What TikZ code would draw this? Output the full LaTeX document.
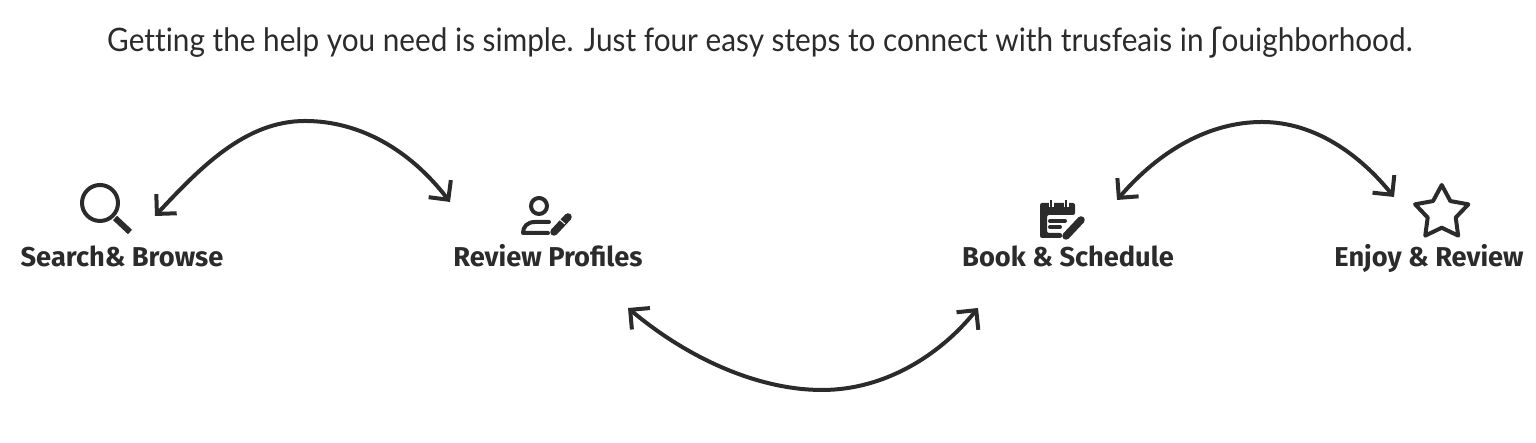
\documentclass[tikz,border=0pt]{standalone}
\usepackage{fontspec}
\setmainfont[FakeStretch=.92,Ligatures=NoCommon]{Lato}
\newfontfamily\labelfont{Fira Sans}
\newfontfamily\ipafont{DejaVu Sans}
\usetikzlibrary{arrows.meta}
\usetikzlibrary{shapes.geometric}
\definecolor{ink}{HTML}{2B2B2B}
\tikzset{
  swing/.style={draw=ink,line width=.04cm,{Straight Barb[length=1.4mm,width=2.8mm]}-{Straight Barb[length=1.4mm,width=2.8mm]}},
  steplabel/.style={text=ink,font=\fontsize{7.75}{10}\labelfont\bfseries,inner sep=0pt,anchor=base},
  icon/.style={draw=ink,line width=.04cm,line cap=round,line join=round},
  pen/.style={draw=ink,line width=.075cm,line cap=round}
}
\begin{document}
\begin{tikzpicture}
    \useasboundingbox (0,0) rectangle (15.36,4.43);
    \node[text=ink,font=\fontsize{9.2}{10}\selectfont,inner sep=0pt,anchor=base] (title) at (7.6,3.91)
      {Getting the help you need is simple. Just four easy steps to connect with trusfeais in {\ipafont ʃ}ouighborhood.};

    \foreach \x/\t/\k in {1.22/Search\& Browse/search,5.48/Review Profiles/review,10.68/Book \& Schedule/book,14.29/Enjoy \& Review/enjoy}
        \node[steplabel] (\k) at (\x,1.76) {\t};

    % magnifier
    \node[icon,circle,minimum size=.36cm,inner sep=0pt] (lens) at (1.00,2.40) {};
    \draw[ink,line width=.06cm] (1.15,2.25) -- (1.30,2.11);

    % person with pen
    \node[icon,circle,minimum size=.16cm,inner sep=0pt] (head) at (5.39,2.37) {};
    \draw[icon] (5.49,2.21) -- (5.35,2.21) .. controls (5.27,2.21) and (5.23,2.16) .. (5.23,2.10) -- (5.48,2.10);
    \draw[pen] (5.54,2.11) -- (5.68,2.26);
    \draw[white,line width=.01cm] (5.59,2.24) -- (5.65,2.19);

    % calendar with pen
    \fill[ink,rounded corners=.6pt] (10.40,2.05) -- (10.40,2.40) -- (10.75,2.40) -- (10.75,2.28) -- (10.47,2.28)
      -- (10.47,2.10) -- (10.62,2.10) -- (10.62,2.05) -- cycle;
    \foreach \x in {10.51,10.66} {
      \draw[white,line width=.05cm] (\x,2.43) -- (\x,2.36);
      \draw[ink,line width=.025cm] (\x,2.43) -- (\x,2.36);
    }
    \draw[icon] (10.50,2.22) -- (10.65,2.22);
    \draw[icon] (10.50,2.16) -- (10.60,2.16);
    \draw[pen] (10.66,2.07) -- (10.81,2.23);

    % star
    \node[icon,star,star points=5,star point ratio=1.9,minimum size=.56cm,inner sep=0pt] (star) at (14.417,2.30) {};

    % ends of the arrows
    \coordinate (a1) at (1.55,2.27);
    \coordinate (a2) at (4.50,2.41);
    \coordinate (b1) at (6.28,1.35);
    \coordinate (b2) at (9.78,1.35);
    \coordinate (c1) at (11.17,2.43);
    \coordinate (c2) at (13.94,2.46);

    \draw[swing] (a1) .. controls (2.00,2.75) and (2.45,3.22) .. (3.05,3.22)
      .. controls (3.60,3.22) and (4.10,2.93) .. (a2);
    \draw[swing] (b1) .. controls (6.90,.83) and (7.60,.53) .. (8.22,.53)
      .. controls (8.85,.53) and (9.40,.88) .. (b2);
    \draw[swing] (c1) .. controls (11.60,2.93) and (12.10,3.21) .. (12.62,3.21)
      .. controls (13.15,3.21) and (13.60,2.88) .. (c2);
\end{tikzpicture}
\end{document}
